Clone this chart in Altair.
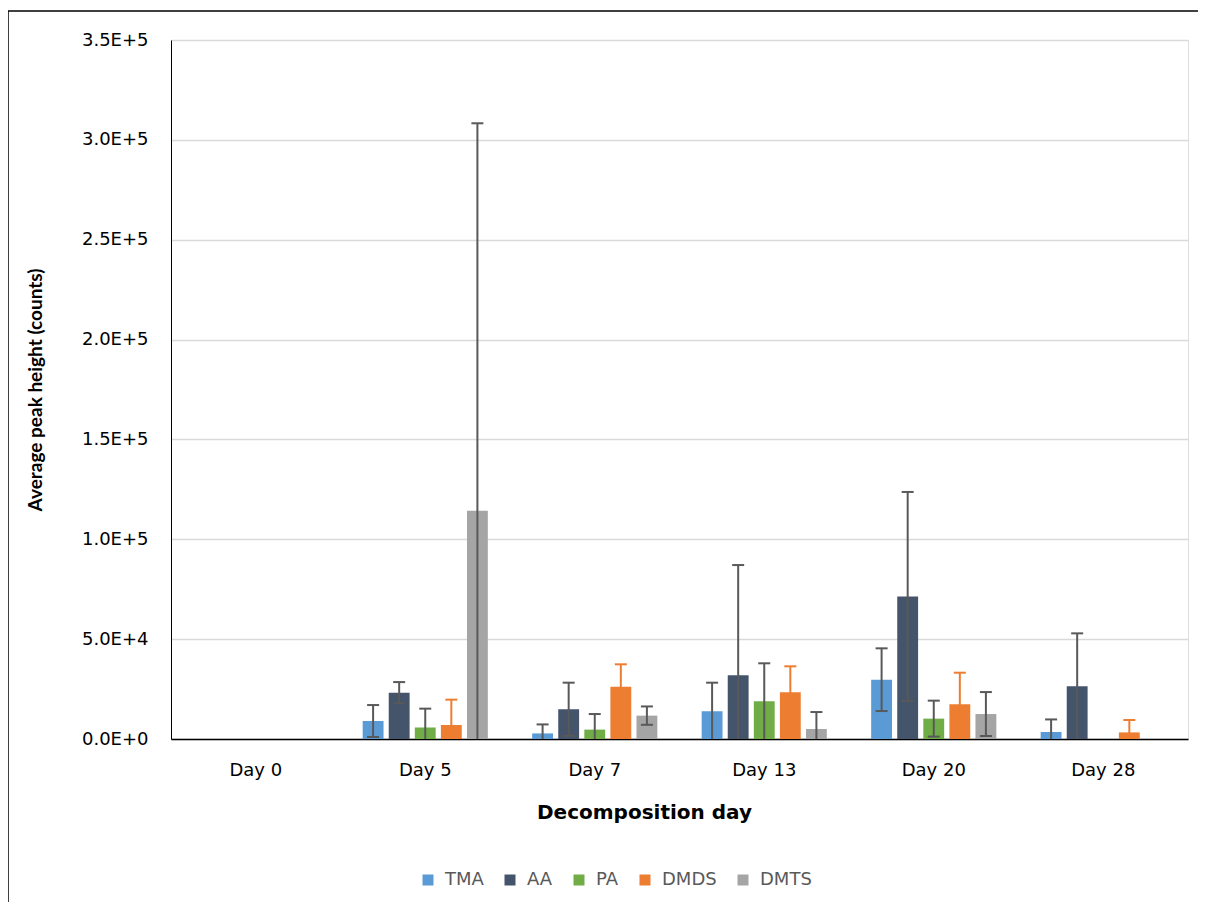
import altair as alt
import pandas as pd

days = ["Day 0", "Day 5", "Day 7", "Day 13", "Day 20", "Day 28"]
series = ["TMA", "AA", "PA", "DMDS", "DMTS"]

# mean peak height per series, one value per day
tma_vals = [0, 9000, 2800, 13900, 29700, 3500]
aa_vals = [0, 23200, 14900, 31900, 71400, 26400]
pa_vals = [0, 5700, 4700, 18900, 10200, 0]
dmds_vals = [0, 7000, 26200, 23400, 17400, 3300]
dmts_vals = [0, 114300, 11700, 5000, 12500, 0]

# error (+/-) per series
tma_err = [0, 8000, 4500, 14300, 15700, 6300]
aa_err = [0, 5300, 13300, 55200, 52300, 26500]
pa_err = [0, 9500, 7800, 19000, 9000, 0]
dmds_err = [0, 12700, 11200, 13000, 15800, 6200]
dmts_err = [0, 194000, 4600, 8500, 11000, 0]

colors = ["#5B9BD5", "#44546A", "#70AD47", "#ED7D31", "#A5A5A5"]
y_ticks = [0, 50000, 100000, 150000, 200000, 250000, 300000, 350000]

vals = [tma_vals, aa_vals, pa_vals, dmds_vals, dmts_vals]
errs = [tma_err, aa_err, pa_err, dmds_err, dmts_err]
rows = []
for s, v, e in zip(series, vals, errs):
    for d, vv, ee in zip(days, v, e):
        rows.append({"day": d, "series": s, "value": vv, "err": ee})
df = pd.DataFrame(rows)

FONT = "DejaVu Sans"
VFONT = "Lato"

x_enc = alt.X("day:N", sort=days, scale=alt.Scale(paddingInner=0, paddingOuter=0),
              axis=alt.Axis(title="Decomposition day", labelAngle=0, ticks=False,
                            domainColor="#000000", domainWidth=1.5,
                            labelFontSize=18, labelColor="#000000", labelPadding=22,
                            titleFontSize=20, titleFontWeight="bold", titleColor="#000000",
                            titlePadding=23, titleX=473, titleAlign="center",
                            labelFont=FONT, titleFont=FONT))
xoff = alt.XOffset("series:N", sort=series,
                   scale=alt.Scale(paddingInner=0.2, paddingOuter=0.85))
y_scale = alt.Scale(domain=[0, 350000], nice=False)

base = alt.Chart(df)

bars = base.mark_bar(opacity=1).encode(
    x=x_enc,
    xOffset=xoff,
    y=alt.Y("value:Q", scale=y_scale,
            axis=alt.Axis(title="Average peak height (counts)", values=y_ticks,
                          labelExpr="replace(format(datum.value, '.1e'), 'e', 'E')",
                          ticks=False, domainColor="#000000", domainWidth=1,
                          gridColor="#D9D9D9", gridWidth=1.5,
                          labelFontSize=18, labelColor="#000000", labelPadding=23,
                          titleFontSize=19, titleFontWeight="bold", titleColor="#000000",
                          titlePadding=36, labelFont=FONT, titleFont=VFONT)),
    color=alt.Color("series:N", sort=series,
                    scale=alt.Scale(domain=series, range=colors),
                    legend=alt.Legend(title=None, orient="none", direction="horizontal",
                                      legendX=248, legendY=831, symbolType="square",
                                      symbolSize=121, symbolStrokeWidth=0, symbolOpacity=1,
                                      labelFontSize=18, labelColor="#595959", labelFont=FONT,
                                      labelOffset=8, columnPadding=17, symbolOffset=0)),
)

err_base = base.transform_filter("datum.err > 0").transform_calculate(
    lo="max(0, datum.value - datum.err)",
    hi="datum.value + datum.err",
    ecol="datum.series == 'DMDS' ? '#ED7D31' : '#595959'",
)

err_rule = err_base.mark_rule(strokeWidth=2).encode(
    x=alt.X("day:N", sort=days),
    xOffset=xoff,
    y=alt.Y("lo:Q", scale=y_scale),
    y2="hi:Q",
    color=alt.Color("ecol:N", scale=None),
)
cap_hi = err_base.mark_tick(size=12, thickness=2, opacity=1).encode(
    x=alt.X("day:N", sort=days),
    xOffset=xoff,
    y=alt.Y("hi:Q", scale=y_scale),
    color=alt.Color("ecol:N", scale=None),
)
cap_lo = err_base.transform_filter("datum.value - datum.err > 0").mark_tick(size=12, thickness=2, opacity=1).encode(
    x=alt.X("day:N", sort=days),
    xOffset=xoff,
    y=alt.Y("lo:Q", scale=y_scale),
    color=alt.Color("ecol:N", scale=None),
)

border_left = alt.Chart(pd.DataFrame({"k": [0]})).mark_rule(color="#000000", strokeWidth=1.5).encode(
    x=alt.value(-163), y=alt.value(-29), y2=alt.value(900))
border_top = alt.Chart(pd.DataFrame({"k": [0]})).mark_rule(color="#000000", strokeWidth=1.5).encode(
    x=alt.value(-163), x2=alt.value(1100), y=alt.value(-29))

chart = alt.layer(bars, err_rule, cap_hi, cap_lo, border_left, border_top).properties(
    width=1017, height=699,
    autosize=alt.AutoSizeParams(type="none"),
    padding={"left": 163, "top": 32, "right": 10, "bottom": 163},
).configure_view(stroke=None).configure(background="white")

chart.save("out.html", embed_options={"renderer": "svg", "actions": False})
